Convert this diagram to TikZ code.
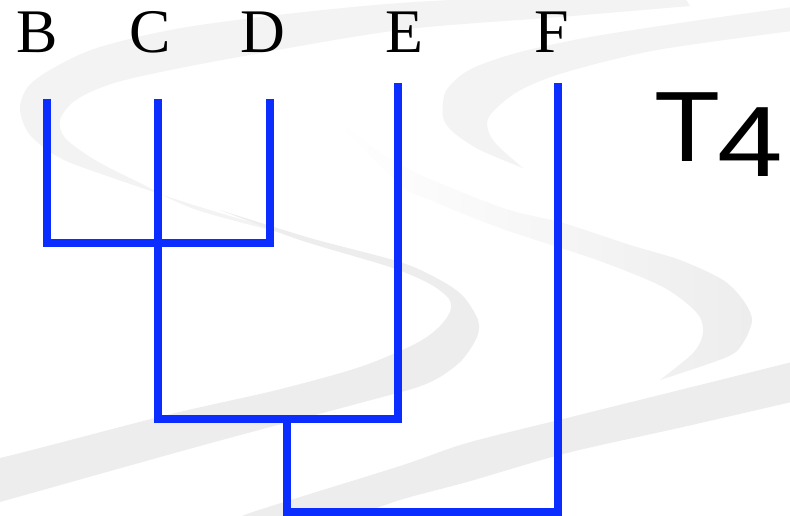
\documentclass[tikz,border=0pt]{standalone}
\usepackage{fontspec}
\setmainfont{Liberation Serif}
\newfontfamily\titlefont{Liberation Sans}
\definecolor{treeblue}{RGB}{12,45,255}
\definecolor{swoosh}{RGB}{237,237,237}
\definecolor{swooshlight}{RGB}{243,243,243}

\begin{document}
\begin{tikzpicture}[
  x=1pt, y=-1pt,
  band/.style={fill=swoosh, draw=none},
  lightband/.style={fill=swooshlight, draw=none},
  branch/.style={draw=treeblue, line width=8pt},
  taxon/.style={font=\fontsize{62}{62}\selectfont, inner sep=0pt, anchor=base}
]
\useasboundingbox[fill=white] (0,0) rectangle (790,516);

% faint background swooshes
\begin{scope}
\clip (0,0) rectangle (790,516);
\fill[lightband] plot[smooth] coordinates {(680,-10) (400,3) (200,25) (100,47) (50,70) (27,88) (20,110) (30,135) (60,158) (110,177) (200,207) (330,245)}
  -- plot[smooth] coordinates {(330,245) (200,211) (140,183) (95,160) (65,138) (60,120) (72,103) (95,90) (133,78) (233,58) (400,30) (560,17) (690,6)} -- cycle;
\fill[band] plot[smooth] coordinates {(220,210) (310,238) (400,262) (440,280) (463,296) (478,320) (477,337) (462,360) (440,377) (415,388) (360,403) (200,446) (0,502) (-10,505)}
  -- plot[smooth] coordinates {(-10,455) (0,458) (167,415) (277,390) (360,367) (415,344) (438,328) (450,312) (449,299) (430,284) (390,267) (300,240) (220,210)} -- cycle;
\fill[lightband] plot[smooth] coordinates {(800,6) (700,20) (590,37) (520,52) (480,65) (460,76) (445,93) (443,117) (453,132) (480,150) (523,168)}
  -- plot[smooth] coordinates {(523,168) (497,145) (488,130) (490,115) (517,92) (563,73) (657,50) (800,30)} -- cycle;
\shade[left color=white, right color=swoosh] plot[smooth] coordinates {(333,118) (400,165) (500,207) (563,223) (630,245) (680,260) (723,280) (743,300) (752,320) (743,343) (727,357) (660,380)}
  -- plot[smooth] coordinates {(660,380) (693,353) (703,333) (697,313) (663,287) (597,260) (500,228) (430,200) (400,185) (333,118)} -- cycle;
\fill[band] plot[smooth] coordinates {(800,360) (700,385) (567,418) (467,443) (400,466) (250,513) (230,525)}
  -- plot[smooth] coordinates {(330,525) (400,500) (467,482) (567,453) (683,427) (800,400)} -- cycle;
\end{scope}

% taxa
\node[taxon] (lb) at (37,53) {B};
\node[taxon] (lc) at (150,53) {C};
\node[taxon] (ld) at (263,53) {D};
\node[taxon] (le) at (404,53) {E};
\node[taxon] (lf) at (552,53) {F};
\node[font=\titlefont\fontsize{100}{100}\selectfont, inner sep=0pt, anchor=base west] (title) at (654.5,161)
  {\scalebox{1.08}[1]{T}\kern-3.5pt\raisebox{-16pt}{\scalebox{1.18}[1]{4}}};

% tree
\coordinate (b) at (47,99);
\coordinate (c) at (158,99);
\coordinate (d) at (270,99);
\coordinate (e) at (398,83);
\coordinate (f) at (558,83);
\coordinate (bcd) at (158,243);
\coordinate (bcde) at (287,419);
\coordinate (root) at (422,512);
\draw[branch] (b) |- (bcd) -| (d);
\draw[branch] (c) |- (bcde) -| (e);
\draw[branch] (bcde) |- (root) -| (f);
\end{tikzpicture}
\end{document}
